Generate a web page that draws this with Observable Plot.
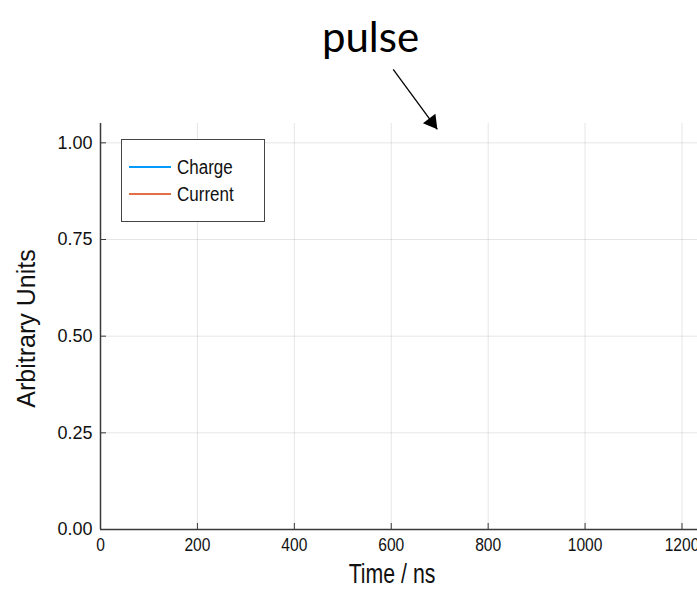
<!DOCTYPE html>
<html>
<head>
<meta charset="utf-8">
<script src="https://cdn.jsdelivr.net/npm/d3@7"></script>
<script src="https://cdn.jsdelivr.net/npm/@observablehq/plot@0.6"></script>
<style>
  html, body { margin: 0; padding: 0; background: #fff; overflow: hidden; }
  #wrap { position: relative; width: 697px; height: 590px; overflow: hidden; }
  svg { overflow: visible; }
</style>
</head>
<body>
<div id="wrap"></div>
<script>
// ---- chart content ----
const title = "pulse";
const xLabel = "Time / ns";
const yLabel = "Arbitrary Units";
const xTicks = [0, 200, 400, 600, 800, 1000, 1200];
const yTicks = [0, 0.25, 0.5, 0.75, 1.0];
const xDomain = [0, 1232];
const yDomain = [0, 1.05];
const seriesNames = ["Charge", "Current"];
const seriesColors = ["#009AFA", "#E36F47"];
// the series carry no visible samples in the reference
const chargeTime = [];
const chargeValue = [];
const currentTime = [];
const currentValue = [];
// annotation arrow (data units)
const arrowFrom = [{x: 604, y: 1.19}];
const arrowTo = [{x: 695, y: 1.035}];

const seriesData = [
  ...chargeTime.map((t, i) => ({t, v: chargeValue[i], s: seriesNames[0]})),
  ...currentTime.map((t, i) => ({t, v: currentValue[i], s: seriesNames[1]}))
];

const FONT = "'Liberation Sans', Arial, Helvetica, sans-serif";
const AXIS = "#3a3a3a";

const chart = Plot.plot({
  width: 697,
  height: 590,
  marginLeft: 100,
  marginRight: 0,
  marginTop: 123,
  marginBottom: 61,
  style: {fontFamily: FONT, fontSize: "18px", color: "#222", background: "#fff"},
  x: {domain: xDomain, label: null},
  y: {domain: yDomain, label: null},
  color: {domain: seriesNames, range: seriesColors},
  marks: [
    Plot.gridX(xTicks, {stroke: "#000", strokeOpacity: 0.1, strokeWidth: 1}),
    Plot.gridY(yTicks, {stroke: "#000", strokeOpacity: 0.1, strokeWidth: 1}),
    Plot.lineY(seriesData, {x: "t", y: "v", stroke: "s", z: "s", strokeWidth: 1.5}),
    Plot.ruleX([0], {stroke: AXIS, strokeWidth: 1.5}),
    Plot.ruleY([0], {stroke: AXIS, strokeWidth: 1.5}),
    Plot.axisX(xTicks, {tickSize: -6, tickPadding: 14, stroke: AXIS, fill: "#111", label: null,
      fontSize: 19, tickFormat: d3.format("d")}),
    Plot.axisY(yTicks, {tickSize: -6, tickPadding: 14, stroke: AXIS, fill: "#111", label: null,
      fontSize: 18, tickFormat: d3.format(".2f")}),
    Plot.text([xLabel], {text: d => d, frameAnchor: "bottom", textAnchor: "middle", lineAnchor: "top",
      dy: 34, dx: -7, fontSize: 28, fill: "#111"}),
    Plot.text([yLabel], {text: d => d, frameAnchor: "left", textAnchor: "middle", rotate: -90,
      lineAnchor: "middle", dx: -74, dy: 2, fontSize: 25, fill: "#111"}),
    Plot.link(arrowFrom.map((a, i) => ({x1: a.x, y1: a.y, x2: arrowTo[i].x, y2: arrowTo[i].y})),
      {x1: "x1", y1: "y1", x2: "x2", y2: "y2", stroke: "#000", strokeWidth: 1.3}),
    Plot.dot(arrowTo, {x: "x", y: "y", symbol: "triangle", r: 5.8, fill: "#000", stroke: "none",
      rotate: 142.9, dx: -5.4, dy: -7.2})
  ]
});

document.getElementById("wrap").appendChild(chart);

const svg = d3.select(chart);

// horizontally condense text (the reference uses a narrow sans face)
function condense(sel, factor) {
  sel.each(function () {
    const w = this.getComputedTextLength();
    if (w > 0) {
      this.setAttribute("textLength", (w * factor).toFixed(2));
      this.setAttribute("lengthAdjust", "spacingAndGlyphs");
    }
  });
}
condense(svg.selectAll('g[aria-label="x-axis tick label"] text'), 0.82);
condense(svg.selectAll("text").filter(function () { return this.textContent === xLabel; }), 0.76);

// title
svg.append("text")
  .attr("x", 370.5).attr("y", 52)
  .attr("text-anchor", "middle")
  .attr("font-family", "Lato, 'Open Sans', sans-serif")
  .attr("font-size", 42)
  .attr("fill", "#000")
  .text(title);

// legend
const lg = svg.append("g");
lg.append("rect")
  .attr("x", 121.5).attr("y", 139.5).attr("width", 143).attr("height", 82)
  .attr("fill", "#fff").attr("stroke", "#444").attr("stroke-width", 1);
seriesNames.forEach((name, i) => {
  const cy = 167 + i * 27;
  lg.append("line")
    .attr("x1", 129).attr("x2", 171).attr("y1", cy).attr("y2", cy)
    .attr("stroke", seriesColors[i]).attr("stroke-width", 2);
  lg.append("text")
    .attr("x", 177).attr("y", cy).attr("dy", "0.35em")
    .attr("text-anchor", "start")
    .attr("font-family", FONT).attr("font-size", 20).attr("fill", "#111")
    .text(name);
});
condense(lg.selectAll("text"), 0.85);
</script>
</body>
</html>
